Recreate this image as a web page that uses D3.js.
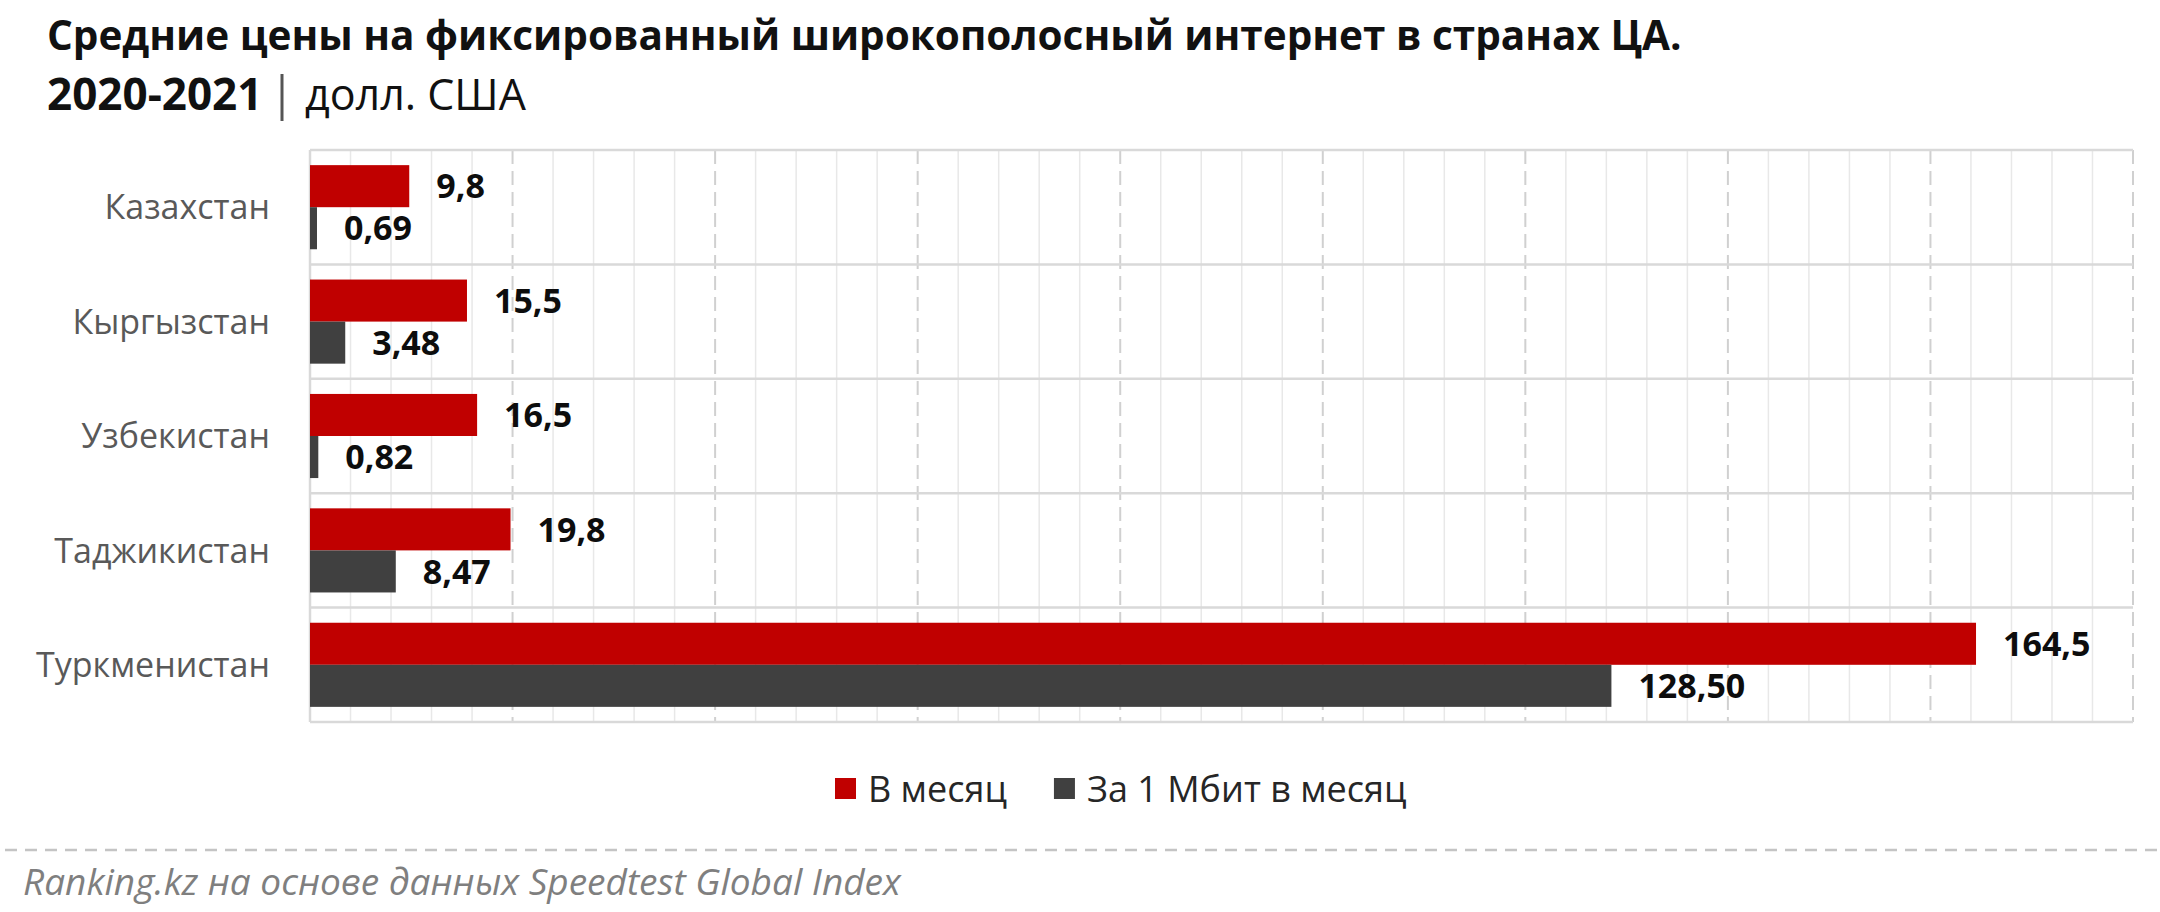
<!DOCTYPE html>
<html>
<head>
<meta charset="utf-8">
<script src="https://cdn.jsdelivr.net/npm/d3@7"></script>
<style>
  html, body { margin: 0; padding: 0; background: #fff; }
  svg { display: block; }
</style>
</head>
<body>
<svg id="chart" width="2160" height="912"></svg>
<script>
// data
const countries = ['Казахстан', 'Кыргызстан', 'Узбекистан', 'Таджикистан', 'Туркменистан'];
const perMonth = [9.8, 15.5, 16.5, 19.8, 164.5];
const perMbit = [0.69, 3.48, 0.82, 8.47, 128.50];
const seriesNames = ['В месяц', 'За 1 Мбит в месяц'];
const seriesColors = ['#c00000', '#404040'];

const svg = d3.select('#chart');
const font = "'Open Sans', 'Noto Sans', sans-serif";

const ruLocale = d3.formatLocale({ decimal: ',', thousands: ' ', grouping: [3], currency: ['', ''] });
const fmt = [ruLocale.format('.1f'), ruLocale.format('.2f')];

const x = d3.scaleLinear().domain([0, 180]).range([310, 2133]);
const y = d3.scaleBand().domain(countries).range([150, 722]).padding(0);
const inner = d3.scaleBand().domain([0, 1]).range([0, y.bandwidth()]).paddingInner(0).paddingOuter(0.36);

// title
svg.append('text')
    .attr('x', 47)
    .attr('y', 50)
    .style('font-family', font)
    .style('font-size', '40.5px')
    .style('font-weight', 700)
    .attr('fill', '#111')
    .text('Средние цены на фиксированный широкополосный интернет в странах ЦА.');

svg.append('text')
    .attr('x', 47)
    .attr('y', 110)
    .style('font-family', font)
    .style('font-size', '44px')
    .style('font-weight', 700)
    .attr('fill', '#111')
    .text('2020-2021');

svg.append('line')
    .attr('x1', 282).attr('x2', 282)
    .attr('y1', 74).attr('y2', 121)
    .attr('stroke', '#555')
    .attr('stroke-width', 3);

svg.append('text')
    .attr('x', 305)
    .attr('y', 110)
    .style('font-family', font)
    .style('font-size', '43px')
    .attr('fill', '#111')
    .text('долл. США');

// grid: minor every 4, major (dashed) every 20
const plot = svg.append('g');
const minorTicks = d3.range(4, 181, 4).filter(d => d % 20 !== 0);
const majorTicks = d3.range(20, 181, 20);

plot.selectAll('.minor')
    .data(minorTicks)
    .enter()
    .append('line')
    .attr('class', 'minor')
    .attr('x1', d => x(d)).attr('x2', d => x(d))
    .attr('y1', y.range()[0]).attr('y2', y.range()[1])
    .attr('stroke', '#e8e8e8')
    .attr('stroke-width', 1.5);

plot.selectAll('.major')
    .data(majorTicks)
    .enter()
    .append('line')
    .attr('class', 'major')
    .attr('x1', d => x(d)).attr('x2', d => x(d))
    .attr('y1', y.range()[0]).attr('y2', y.range()[1])
    .attr('stroke', '#d0d0d0')
    .attr('stroke-width', 2)
    .attr('stroke-dasharray', '14,7');

// category separators
const bounds = countries.map(c => y(c)).concat([y.range()[1]]);
plot.selectAll('.sep')
    .data(bounds)
    .enter()
    .append('line')
    .attr('class', 'sep')
    .attr('x1', x(0)).attr('x2', x(180))
    .attr('y1', d => d).attr('y2', d => d)
    .attr('stroke', '#d9d9d9')
    .attr('stroke-width', 2.5);

plot.append('line')
    .attr('x1', x(0)).attr('x2', x(0))
    .attr('y1', y.range()[0]).attr('y2', y.range()[1])
    .attr('stroke', '#d9d9d9')
    .attr('stroke-width', 2.5);

// bars
const rows = [];
countries.forEach((c, i) => {
    rows.push({ country: c, s: 0, v: perMonth[i] });
    rows.push({ country: c, s: 1, v: perMbit[i] });
});

svg.append('g')
    .selectAll('rect')
    .data(rows)
    .enter()
    .append('rect')
    .attr('x', x(0))
    .attr('y', d => y(d.country) + inner(d.s))
    .attr('width', d => x(d.v) - x(0))
    .attr('height', inner.bandwidth())
    .attr('fill', d => seriesColors[d.s]);

svg.append('g')
    .selectAll('text')
    .data(rows)
    .enter()
    .append('text')
    .attr('x', d => x(d.v) + 27)
    .attr('y', d => y(d.country) + inner(d.s) + inner.bandwidth() / 2)
    .attr('dy', '0.36em')
    .style('font-family', font)
    .style('font-size', '34px')
    .style('font-weight', 700)
    .attr('fill', '#0d0d0d')
    .text(d => fmt[d.s](d.v));

// category labels
svg.append('g')
    .selectAll('text')
    .data(countries)
    .enter()
    .append('text')
    .attr('x', 270)
    .attr('y', d => y(d) + y.bandwidth() / 2)
    .attr('dy', '0.36em')
    .attr('text-anchor', 'end')
    .style('font-family', font)
    .style('font-size', '34px')
    .attr('fill', '#595959')
    .text(d => d);

// legend
const legend = svg.append('g').attr('transform', 'translate(835, 789)');
let lx = 0;
seriesNames.forEach((name, i) => {
    const item = legend.append('g').attr('transform', `translate(${lx}, 0)`);
    item.append('rect')
        .attr('x', 0).attr('y', -11)
        .attr('width', 21).attr('height', 21)
        .attr('fill', seriesColors[i]);
    const t = item.append('text')
        .attr('x', 33)
        .attr('dy', '0.36em')
        .style('font-family', font)
        .style('font-size', '36px')
        .attr('fill', '#262626')
        .text(name);
    lx += 33 + t.node().getComputedTextLength() + 47;
});

// footer
svg.append('line')
    .attr('x1', 5).attr('x2', 2160)
    .attr('y1', 850).attr('y2', 850)
    .attr('stroke', '#c4c4c4')
    .attr('stroke-width', 2.5)
    .attr('stroke-dasharray', '12,8');

svg.append('text')
    .attr('x', 23)
    .attr('y', 895)
    .style('font-family', font)
    .style('font-size', '37px')
    .style('font-style', 'italic')
    .attr('fill', '#7f7f7f')
    .text('Ranking.kz на основе данных Speedtest Global Index');
</script>
</body>
</html>
